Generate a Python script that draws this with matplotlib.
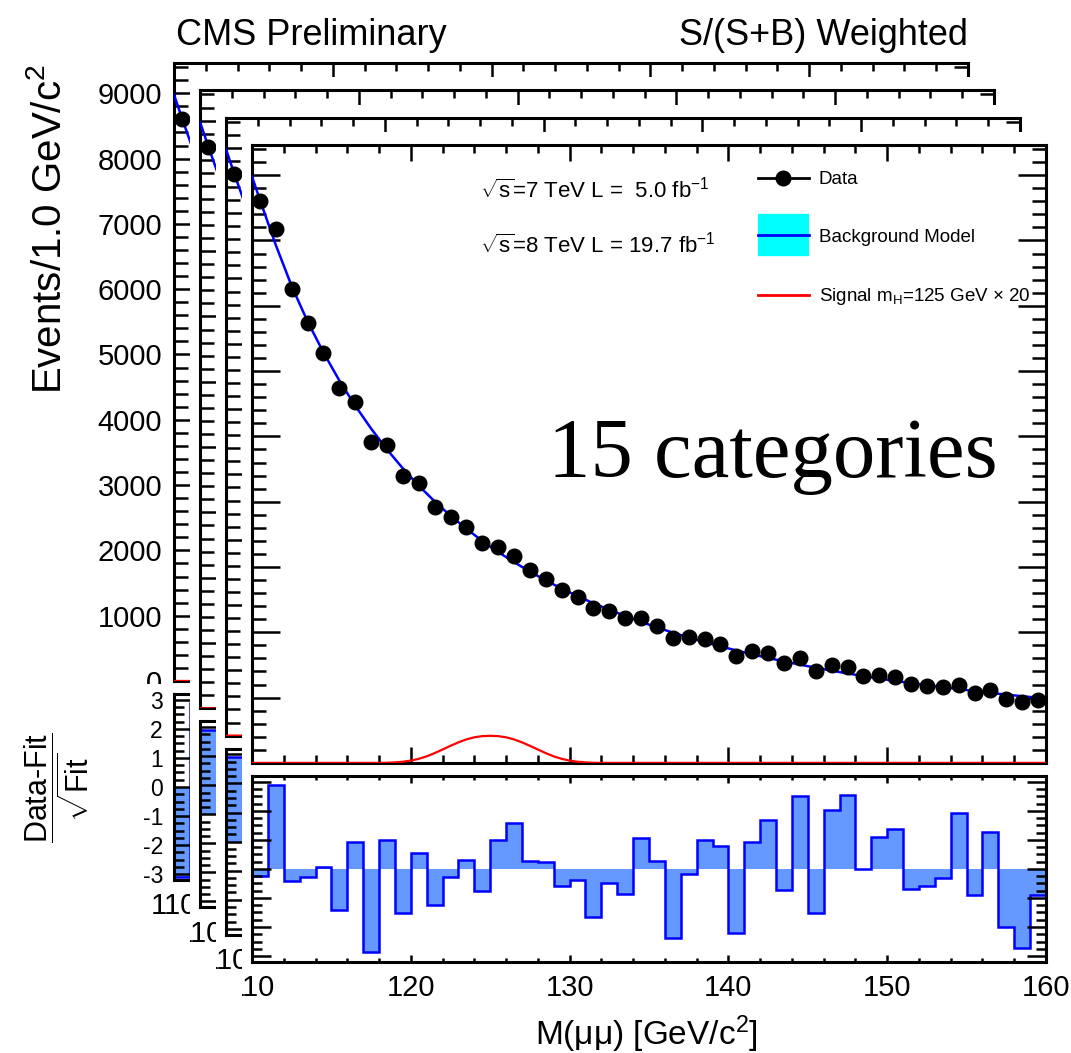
import numpy as np
import matplotlib
matplotlib.use("Agg")
import matplotlib.pyplot as plt
from matplotlib.patches import Rectangle
from matplotlib.lines import Line2D
from matplotlib.ticker import MultipleLocator
from matplotlib.transforms import Bbox, TransformedBbox

plt.rcParams["font.family"] = ["Liberation Sans", "DejaVu Sans"]
plt.rcParams["mathtext.fontset"] = "custom"
plt.rcParams["mathtext.rm"] = "Liberation Sans"
plt.rcParams["mathtext.it"] = "Liberation Sans"
plt.rcParams["mathtext.bf"] = "Liberation Sans:bold"
plt.rcParams["axes.unicode_minus"] = False

# dimuon mass, 1 GeV bins from 110 to 160
bin_edges = np.arange(110, 161, 1)
bin_centers = bin_edges[:-1] + 0.5

data_counts = [8600, 8170, 7260, 6740, 6280, 5740, 5520, 4910, 4870, 4400,
               4280, 3925, 3770, 3610, 3364, 3305, 3175, 2956, 2813, 2649,
               2547, 2369, 2328, 2216, 2225, 2090, 1910, 1925, 1899, 1822,
               1639, 1715, 1679, 1536, 1613, 1414, 1501, 1475, 1337, 1348,
               1312, 1205, 1179, 1159, 1194, 1067, 1118, 980, 930, 965]

bkg_mass = [110.0] + list(bin_centers) + [160.0]
bkg_model = [8980, 8620, 7930, 7300, 6760, 6285, 5855, 5470, 5120, 4800, 4510,
             4245, 4005, 3785, 3585, 3400, 3230, 3075, 2930, 2795, 2670,
             2555, 2445, 2345, 2250, 2160, 2075, 1995, 1920, 1850, 1785,
             1722, 1663, 1607, 1555, 1505, 1458, 1413, 1370, 1330, 1292,
             1256, 1222, 1190, 1160, 1131, 1100, 1072, 1046, 1021, 998, 988]

sig_mass = [110.0] + list(np.arange(118, 132.5, 0.5)) + [160.0]
sig_x20 = [0, 0, 2, 8, 18, 35, 62, 100, 150, 205, 262, 315, 360, 392, 410,
           415, 410, 392, 360, 315, 262, 205, 150, 100, 62, 35, 18, 8, 2, 0, 0]

pull = [-0.23, 2.9, -0.4, -0.28, 0.05, -1.42, 0.92, -2.86, 1.01, -1.53,
        0.56, -1.25, -0.28, 0.32, -0.76, 1.01, 1.57, 0.27, 0.23, -0.59,
        -0.375, -1.66, -0.49, -0.88, 1.06, 0.28, -2.39, -0.17, 1.0, 0.8,
        -2.22, 0.93, 1.67, -0.73, 2.52, -1.51, 2.01, 2.56, -0.02, 1.09,
        1.36, -0.70, -0.60, -0.31, 1.93, -0.91, 1.28, -1.99, -2.73, -0.91]

# first bin of the category plots stacked behind the front one
back_first_pull = [-3.1, 2.9, 2.9]

W, H = 1071, 1053
DX, DY = 26, 27.3


def fr(x0, y0, x1, y1):
    """pixel box (top-left origin) -> figure fraction rect"""
    return [x0 / W, 1 - y1 / H, (x1 - x0) / W, (y1 - y0) / H]


fig = plt.figure(figsize=(W / 100, H / 100), dpi=100)

for k in range(4):
    left = 174 + DX * k
    right = 968 + DX * k
    up_top, up_bot = 63 + DY * k, 681 + DY * k
    r_top, r_bot = 694 + DY * k, 880 + DY * k
    z = 10 * k

    """each card hides the one behind it"""
    if k > 0:
        x0, y0 = left - 10, up_top - 13
        fig.add_artist(Rectangle((x0 / W, 1 - (r_bot + 91) / H),
                                 (right + 30 - x0) / W, (r_bot + 91 - y0) / H,
                                 transform=fig.transFigure, facecolor="white",
                                 edgecolor="none", zorder=z + 1))

    ax = fig.add_axes(fr(left, up_top, right, up_bot), zorder=z + 2)
    ax.plot(bkg_mass, bkg_model, color="#0000ff", lw=1.8, zorder=3)
    ax.plot(sig_mass, sig_x20, color="#ff0000", lw=1.6, zorder=3)
    ax.plot(bin_centers, data_counts, "o", color="black", ms=10.5, zorder=4)
    ax.set_xlim(110, 160)
    ax.set_ylim(0, 9464)
    ax.xaxis.set_major_locator(MultipleLocator(10))
    ax.xaxis.set_minor_locator(MultipleLocator(2))
    ax.yaxis.set_major_locator(MultipleLocator(1000))
    ax.yaxis.set_minor_locator(MultipleLocator(200))
    ax.tick_params(which="both", direction="in", top=True, right=True,
                   width=1.8, labelbottom=False, labelleft=(k == 0),
                   labelsize=21, pad=8.5)
    ax.tick_params(axis="y", which="major", length=20)
    ax.tick_params(axis="y", which="minor", length=10)
    ax.tick_params(axis="x", which="major", length=11.5)
    ax.tick_params(axis="x", which="minor", length=5.8)
    for s in ax.spines.values():
        s.set_linewidth(2.2)

    if k == 0:
        ax.text(50 / W, 1 - 229 / H, r"Events/1.0 GeV/c$^{2}$", rotation=90,
                transform=fig.transFigure, ha="center", va="center",
                fontsize=29)
        # lower pad cuts the "0" label of the upper pad
        fig.add_artist(Rectangle((0, 0), 1, 1 - (up_bot + 3) / H,
                                 transform=fig.transFigure, facecolor="white",
                                 edgecolor="none", zorder=z + 3))

    if k == 3:
        ax.text(480 / W, 1 - 198 / H, r"$\sqrt{s}$=7 TeV L =  5.0 fb$^{-1}$",
                transform=fig.transFigure, fontsize=16, va="baseline")
        ax.text(480 / W, 1 - 253 / H, r"$\sqrt{s}$=8 TeV L = 19.7 fb$^{-1}$",
                transform=fig.transFigure, fontsize=16, va="baseline")
        ax.text(548 / W, 1 - 477 / H, "15 categories", family="Liberation Serif",
                fontsize=61, transform=fig.transFigure, va="baseline")
        handles = [Line2D([], [], color="black", lw=2, marker="o", ms=10.5),
                   (Line2D([], [], color="#00ffff", lw=30.5,
                           solid_capstyle="butt"),
                    Line2D([], [], color="#0000ff", lw=2)),
                   Line2D([], [], color="#ff0000", lw=2)]
        labels = ["Data", "Background Model",
                  r"Signal m$_{\rm H}$=125 GeV × 20"]
        ax.legend(handles, labels, loc="upper left",
                  bbox_to_anchor=(758 / W, 1 - 171 / H),
                  bbox_transform=fig.transFigure, frameon=False, fontsize=13.5,
                  numpoints=1, handlelength=2.7, handleheight=0.7,
                  handletextpad=0.55, labelspacing=2.16, borderpad=0,
                  borderaxespad=0)

    axr = fig.add_axes(fr(left, r_top, right, r_bot), zorder=z + 4)
    pk = list(pull)
    if k < 3:
        pk[0] = back_first_pull[k]
    axr.stairs(pk, bin_edges, baseline=0, fill=True, color="#6699ff", lw=0)
    axr.stairs(pk, bin_edges, baseline=None, color="#0000ff", lw=1.8)
    axr.set_xlim(110, 160)
    axr.set_ylim(-3.2, 3.2)
    axr.set_xticks(np.arange(110, 161, 10))
    axr.xaxis.set_minor_locator(MultipleLocator(2))
    axr.yaxis.set_major_locator(MultipleLocator(1))
    axr.yaxis.set_minor_locator(MultipleLocator(0.25))
    axr.tick_params(which="both", direction="in", top=True, right=True,
                    width=1.8, labelleft=(k == 0))
    axr.tick_params(axis="x", labelsize=21, pad=9)
    axr.tick_params(axis="y", labelsize=16.5, pad=8)
    axr.tick_params(axis="y", which="major", length=14)
    axr.tick_params(axis="y", which="minor", length=7)
    axr.tick_params(axis="x", which="major", length=5)
    axr.tick_params(axis="x", which="minor", length=3)
    for s in axr.spines.values():
        s.set_linewidth(2.2)

    if k > 0:
        clip = TransformedBbox(Bbox.from_extents((left - 10) / W, 0, 1, 1),
                               fig.transFigure)
        for t in axr.get_xticklabels():
            t.set_clip_box(clip)
            t.set_clip_on(True)

    if k == 0:
        axr.text(57 / W, 1 - 788 / H,
                 r"$\dfrac{\mathrm{Data\text{-}Fit}}{\sqrt{\mathrm{Fit}}}$",
                 rotation=90, transform=fig.transFigure, ha="center",
                 va="center", fontsize=22)
    if k == 3:
        axr.text(646 / W, 1 - 1045 / H, "M(μμ) [GeV/c$^{2}$]",
                 transform=fig.transFigure, ha="center", va="baseline",
                 fontsize=24)

fig.text(176 / W, 1 - 45 / H, "CMS Preliminary", fontsize=26, va="baseline")
fig.text(968 / W, 1 - 45 / H, "S/(S+B) Weighted", fontsize=26, va="baseline",
         ha="right")

fig.savefig("out.png", dpi=100)
